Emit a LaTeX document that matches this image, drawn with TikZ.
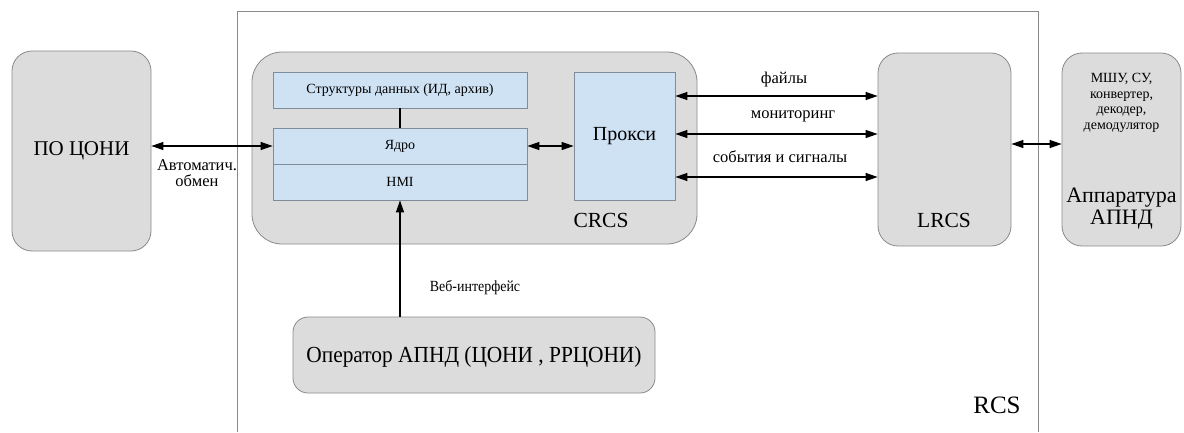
\documentclass[tikz,border=0pt]{standalone}
\usepackage{fontspec}
\setmainfont{Liberation Serif}
\usetikzlibrary{arrows.meta}
\definecolor{boxgray}{HTML}{DCDCDC}
\definecolor{boxedge}{HTML}{8A8A8A}
\definecolor{boxblue}{HTML}{CFE2F3}
\definecolor{blueedge}{HTML}{7F8C99}
\tikzset{
  graybox/.style={draw=boxedge, fill=boxgray, line width=0.8pt, rounded corners=20pt, inner sep=0pt},
  bluebox/.style={draw=blueedge, fill=boxblue, line width=0.8pt, inner sep=0pt, minimum width=254pt, minimum height=36pt, font=\fontsize{14}{16}\selectfont},
  twoway/.style={line width=1.2pt, {Triangle[length=12pt,width=8pt]}-{Triangle[length=12pt,width=8pt]}},
  oneway/.style={line width=1.2pt, -{Triangle[length=12pt,width=8pt]}},
  lbl/.style={inner sep=0pt, font=\fontsize{16.5}{16}\selectfont, align=center},
  big/.style={font=\fontsize{21}{23}\selectfont}
}
\begin{document}
\begin{tikzpicture}[x=1pt,y=-1pt]
\useasboundingbox (0,0) rectangle (1184,432);
\fill[white] (0,0) rectangle (1184,432);
% RCS frame
\draw[draw=boxedge, line width=0.9pt] (237,432) -- (237,11) -- (1038,11) -- (1038,432);
\node[font=\fontsize{25}{27}\selectfont, inner sep=0pt] (rcslbl) at (997,405) {RCS};

% left
\node[graybox, minimum width=139pt, minimum height=200pt, big] (poconi) at (81.5,151) {ПО ЦОНИ};

% CRCS
\node[graybox, rounded corners=30pt, minimum width=445pt, minimum height=192pt] (crcs) at (474.5,148) {};
\node[big, font=\fontsize{21.5}{23}\selectfont, inner sep=0pt] (crcslbl) at (601,220) {CRCS};
\node[bluebox] (struct) at (400,90) {Структуры данных (ИД, архив)};
\node[bluebox] (yadro) at (400,146) {Ядро};
\node[bluebox] (hmi) at (400,182) {HMI};
\node[bluebox, minimum width=101pt, minimum height=128pt, big, font=\fontsize{20}{22}\selectfont] (proxy) at (624.5,136) {Прокси};

% LRCS
\node[graybox, minimum width=133pt, minimum height=193pt] (lrcs) at (944.5,149.5) {};
\node[font=\fontsize{21.5}{23}\selectfont, inner sep=0pt] (lrcslbl) at (944,220) {LRCS};

% Apparatus
\node[graybox, minimum width=119pt, minimum height=193pt] (appar) at (1121.5,149.5) {};
\node[inner sep=0pt, align=center, font=\fontsize{14}{15.7}\selectfont] (apparsmall) at (1121.5,103) {МШУ, СУ,\\конвертер,\\декодер,\\демодулятор};
\node[inner sep=0pt, align=center, font=\fontsize{22}{22}\selectfont] (apparbig) at (1121.5,209) {Аппаратура\\АПНД};

% Operator
\node[graybox, rounded corners=15pt, minimum width=362pt, minimum height=76pt] (oper) at (474,355) {};
\node[inner sep=0pt, font=\fontsize{23}{25}\selectfont, xscale=0.93] (operlbl) at (474,357) {Оператор АПНД (ЦОНИ , РРЦОНИ)};

% connectors
\draw[twoway] (yadro.west -| poconi.east) -- (yadro.west);
\node[lbl] (autolbl) at (197,173) {Автоматич.\\обмен};
\draw[line width=1.2pt] (struct.south) -- (yadro.north);
\draw[twoway] (yadro.east) -- (yadro.east -| proxy.west);
\draw[twoway] (proxy.east |- 0,96) -- (lrcs.west |- 0,96);
\draw[twoway] (proxy.east |- 0,134) -- (lrcs.west |- 0,134);
\draw[twoway] (proxy.east |- 0,177) -- (lrcs.west |- 0,177);
\node[lbl] (fileslbl) at (784,80) {файлы};
\node[lbl] (monlbl) at (793,116) {мониторинг};
\node[lbl] (evlbl) at (780,157) {события и сигналы};
\draw[twoway] (lrcs.east |- 0,144) -- (appar.west |- 0,144);
\draw[oneway] (oper.north -| hmi.south) -- (hmi.south);
\node[lbl, font=\fontsize{15.5}{16}\selectfont, xscale=0.9] (weblbl) at (475,288) {Веб-интерфейс};
\end{tikzpicture}
\end{document}
